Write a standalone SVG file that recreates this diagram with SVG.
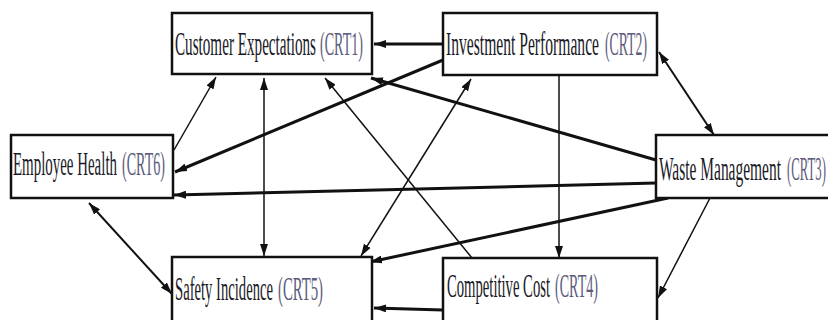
<svg xmlns="http://www.w3.org/2000/svg" width="828" height="320" viewBox="0 0 828 320">
<style>
.box{fill:#fff;stroke:#111;stroke-width:2.5}
.lbl{font-family:"Liberation Serif",serif;font-size:33px;fill:#1a1a26}
.cr{fill:#5c5c7c}
.c{fill:none;stroke:#111}
.thin{stroke-width:1.5}
.mid{stroke-width:2}
.thick{stroke-width:3}
</style>
<defs>
<marker id="arr" viewBox="0 0 12 8" refX="12" refY="4" markerWidth="12" markerHeight="8" markerUnits="userSpaceOnUse" orient="auto-start-reverse">
<path d="M0,0 L12,4 L0,8 z" fill="#111"/>
</marker>
</defs>
<rect width="828" height="320" fill="#fff"/>
<g id="connectors">
<path class="c thick" d="M443,44 L374,44" marker-end="url(#arr)"/>
<path class="c thick" d="M443,60 L175,172" marker-end="url(#arr)"/>
<path class="c thin" d="M174,150 L216,77" marker-end="url(#arr)"/>
<path class="c thin" d="M264,78 L264,256" marker-start="url(#arr)" marker-end="url(#arr)"/>
<path class="c thin" d="M472,258 L325,78" marker-end="url(#arr)"/>
<path class="c thick" d="M656,160 L371,78" marker-end="url(#arr)"/>
<path class="c thin" d="M361,256 L471,79" marker-start="url(#arr)" marker-end="url(#arr)"/>
<path class="c thick" d="M668,198 L370,262" marker-end="url(#arr)"/>
<path class="c thick" d="M656,183 L174,195" marker-end="url(#arr)"/>
<path class="c thin" d="M559,75 L559,258" marker-end="url(#arr)"/>
<path class="c thick" d="M443,310 L374,308" marker-end="url(#arr)"/>
<path class="c mid" d="M659,52 L714,135" marker-start="url(#arr)" marker-end="url(#arr)"/>
<path class="c thin" d="M710,198 L658,298" marker-end="url(#arr)"/>
<path class="c mid" d="M89,203 L172,294" marker-start="url(#arr)" marker-end="url(#arr)"/>
</g>
<g id="crt1">
<rect class="box" x="172" y="13" width="200" height="61"/>
<text class="lbl" x="175" y="55" textLength="141" lengthAdjust="spacingAndGlyphs">Customer Expectations</text>
<text class="lbl cr" x="320" y="55" textLength="43" lengthAdjust="spacingAndGlyphs">(CRT1)</text>
</g>
<g id="crt2">
<rect class="box" x="443" y="13" width="214" height="62"/>
<text class="lbl" x="446" y="55" textLength="153" lengthAdjust="spacingAndGlyphs">Investment Performance</text>
<text class="lbl cr" x="605" y="55" textLength="42" lengthAdjust="spacingAndGlyphs">(CRT2)</text>
</g>
<g id="crt6">
<rect class="box" x="11" y="135" width="162" height="63"/>
<text class="lbl" x="13" y="175" textLength="104" lengthAdjust="spacingAndGlyphs">Employee Health</text>
<text class="lbl cr" x="122" y="175" textLength="43" lengthAdjust="spacingAndGlyphs">(CRT6)</text>
</g>
<g id="crt3">
<rect class="box" x="656" y="135" width="180" height="63"/>
<text class="lbl" x="659" y="180" textLength="122" lengthAdjust="spacingAndGlyphs">Waste Management</text>
<text class="lbl cr" x="787" y="180" textLength="39" lengthAdjust="spacingAndGlyphs">(CRT3)</text>
</g>
<g id="crt5">
<rect class="box" x="172" y="257" width="200" height="70"/>
<text class="lbl" x="175" y="300" textLength="98" lengthAdjust="spacingAndGlyphs">Safety Incidence</text>
<text class="lbl cr" x="278" y="300" textLength="45" lengthAdjust="spacingAndGlyphs">(CRT5)</text>
</g>
<g id="crt4">
<rect class="box" x="443" y="258" width="214" height="70"/>
<text class="lbl" x="447" y="297" textLength="103" lengthAdjust="spacingAndGlyphs">Competitive Cost</text>
<text class="lbl cr" x="555" y="297" textLength="43" lengthAdjust="spacingAndGlyphs">(CRT4)</text>
</g>
</svg>
